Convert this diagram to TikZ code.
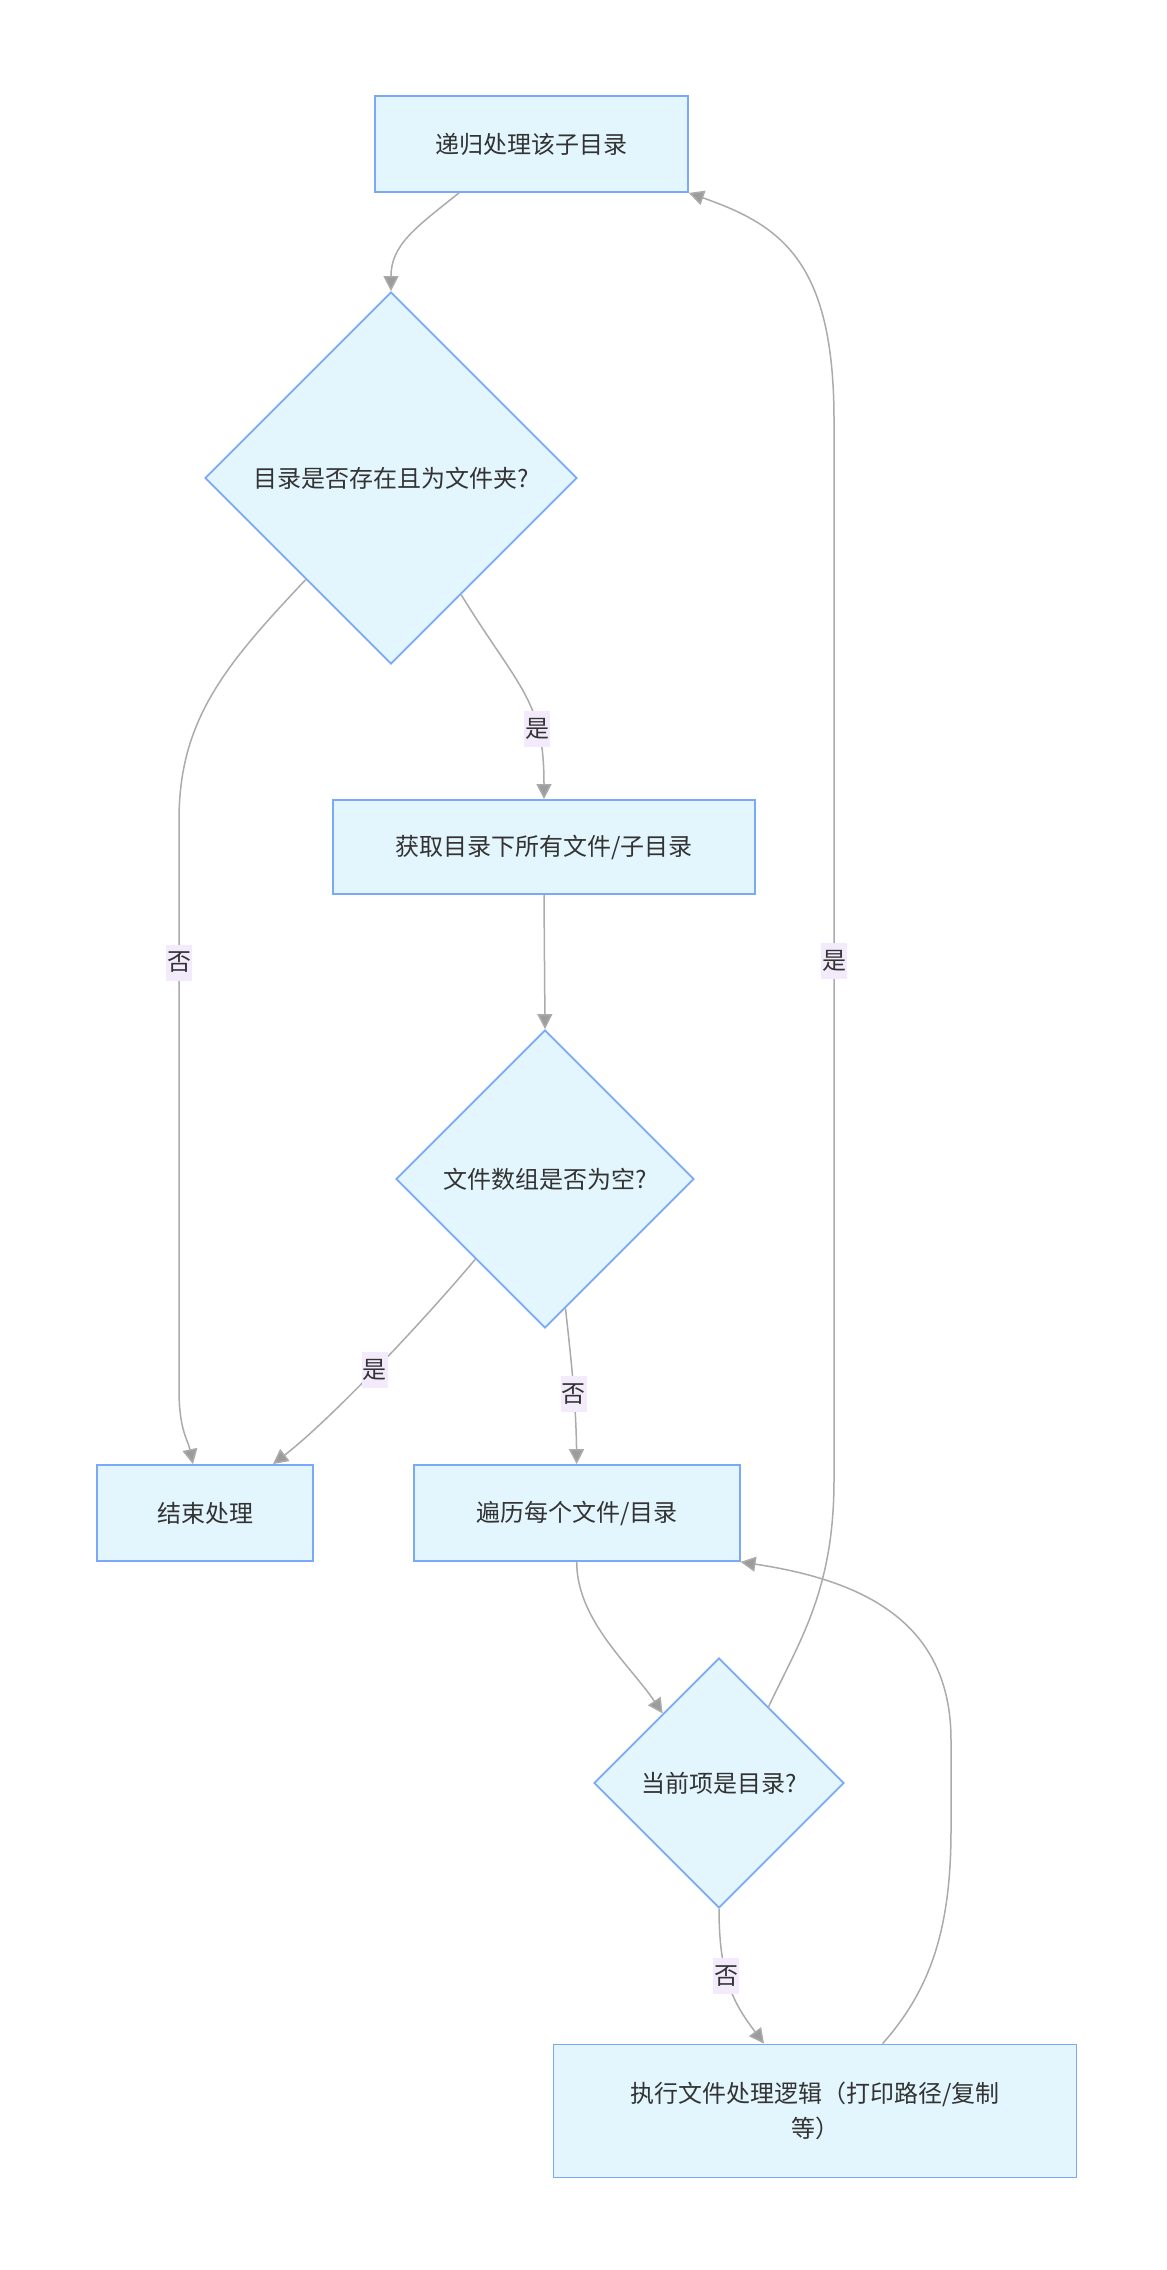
\documentclass[tikz,border=0pt]{standalone}
\usepackage{fontspec}
\setmainfont{Noto Sans CJK SC}
\usepackage{tikz}
\usetikzlibrary{arrows.meta,shapes.geometric}
\definecolor{boxfill}{HTML}{E3F5FD}
\definecolor{boxline}{HTML}{7AAAF7}
\definecolor{edgegray}{HTML}{ABABAB}
\definecolor{tipgray}{HTML}{9C9C9C}
\definecolor{lblfill}{HTML}{F3EBFC}
\definecolor{txt}{HTML}{333333}

\begin{document}
\begin{tikzpicture}[x=0.5pt,y=-0.5pt,>={Triangle[length=7.5pt,width=7.5pt,fill=tipgray]},
                    every node/.style={font=\fontsize{12pt}{17.5pt}\selectfont}]
  \tikzstyle{process}=[rectangle,draw=boxline,fill=boxfill,text=txt,line width=0.9pt,minimum height=48pt]
  \tikzstyle{decision}=[diamond,aspect=1,draw=boxline,fill=boxfill,text=txt,line width=0.9pt,inner sep=0pt]
  \tikzstyle{flow}=[draw=edgegray,line width=0.75pt,->]
  \tikzstyle{lbl}=[fill=lblfill,text=txt,inner xsep=0.5pt,inner ysep=0pt,minimum height=18pt]

  \useasboundingbox (0,0) rectangle (1167,2270);

  \node[process,minimum width=156.5pt] (rec)   at (531.5,144)  {递归处理该子目录};
  \node[decision,minimum size=186pt]   (isdir) at (391,478)    {目录是否存在且为文件夹?};
  \node[process,minimum width=211pt,minimum height=47pt] (list) at (544,847) {获取目录下所有文件/子目录};
  \node[decision,minimum size=149pt]   (empty) at (545,1179)   {文件数组是否为空?};
  \node[process,minimum width=108pt]   (stop)  at (205,1513)   {结束处理};
  \node[process,minimum width=163pt]   (loop)  at (576.7,1513) {遍历每个文件/目录};
  \node[decision,minimum size=125pt]   (cur)   at (719,1783)   {当前项是目录?};
  \node[process,minimum width=261.5pt,minimum height=66.5pt,align=center] (work) at (815,2111)
       {执行文件处理逻辑（打印路径/复制\\等）};

  \draw[flow] (rec.214) .. controls (415,228) and (391,245) .. (isdir.north);
  \draw[flow] (isdir.-59) .. controls (520,690) and (544,700) .. node[lbl,pos=0.7] {是} (list.north);
  \draw[flow] (isdir.230) .. controls (225,665) and (179,720) .. (179,820)
     -- node[lbl,pos=0.25] {否} (179,1390) .. controls (179,1430) and (188,1440) .. ([xshift=-6pt]stop.north);
  \draw[flow] (list.south) -- (empty.north);
  \draw[flow] (empty.229) .. controls (420,1325) and (330,1420) .. node[lbl,pos=0.5] {是} ([xshift=34pt]stop.north);
  \draw[flow] (empty.-81) .. controls (570,1350) and (576,1400) .. node[lbl,pos=0.6] {否} (loop.north);
  \draw[flow] (loop.south) .. controls (576.7,1620) and (630,1665) .. (cur.129);
  \draw[flow] (cur.57) .. controls (800,1640) and (834,1590) .. (834,1480)
     -- node[lbl,pos=0.49] {是} (834,420) .. controls (834,260) and (780,225) .. (rec.south east);
  \draw[flow] (cur.south) .. controls (719,1980) and (735,2005) .. node[lbl,pos=0.4] {否} ([xshift=-25.5pt]work.north);
  \draw[flow] ([xshift=33.8pt]work.north) .. controls (930,1990) and (951,1930) .. (951,1830)
     -- (951,1740) .. controls (951,1620) and (860,1580) .. (loop.south east);
\end{tikzpicture}
\end{document}
